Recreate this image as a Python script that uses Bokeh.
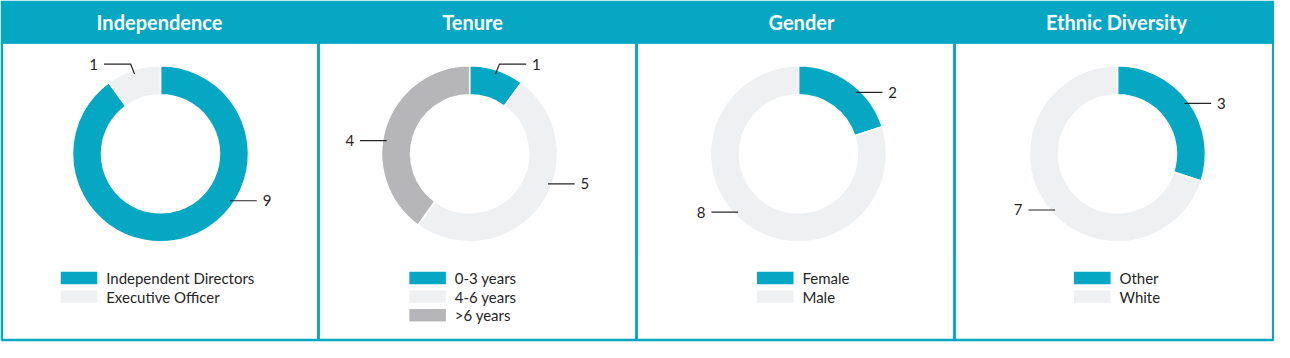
import math
from bokeh.plotting import figure
from bokeh.models import Range1d, ColumnDataSource
from bokeh.embed import file_html
from bokeh.resources import INLINE
from bokeh.core.properties import value

# ---------------- data ----------------
panel_titles = ["Independence", "Tenure", "Gender", "Ethnic Diversity"]

independence_labels = ["Independent Directors", "Executive Officer"]
independence_values = [9, 1]

tenure_labels = ["0-3 years", "4-6 years", ">6 years"]
tenure_values = [1, 5, 4]

gender_labels = ["Female", "Male"]
gender_values = [2, 8]

ethnic_labels = ["Other", "White"]
ethnic_values = [3, 7]

# ---------------- style / layout ----------------
TEAL = "#05a7c2"
LIGHT = "#eff0f2"
GRAY = "#b6b5b8"
TXT = "#262626"
FONT = "Lato"

panel_colors = [[TEAL, LIGHT], [TEAL, LIGHT, GRAY], [TEAL, LIGHT], [TEAL, LIGHT]]
panel_labels = [independence_labels, tenure_labels, gender_labels, ethnic_labels]
panel_values = [independence_values, tenure_values, gender_values, ethnic_values]

W, H = 1274, 342
REF_W, REF_H = 1290, 358
sx, sy = W / REF_W, H / REF_H

panel_edges = [0, 322, 644, 966, 1290]
donut_cx = [162, 475, 808, 1131]
donut_cy = 160.5
title_cx = [161, 478, 811, 1130]
legend_left = [61, 414, 766, 1087]
# label anchor angle (degrees clockwise from 12 o'clock) and elbow flag per slice
label_angle = [[124, 342], [18, 111, 279], [43, 226], [53, 228]]
label_elbow = [[False, True], [True, False, False], [False, False], [False, False]]


def Y(yref):
    return REF_H - yref


p = figure(width=W, height=H, x_range=Range1d(0, REF_W), y_range=Range1d(0, REF_H),
           output_backend="svg", toolbar_location=None, min_border=0)
p.axis.visible = False
p.grid.visible = False
p.outline_line_color = None
p.background_fill_color = "white"
p.border_fill_color = "white"

# header band
p.quad(left=[0], right=[REF_W], top=[Y(0)], bottom=[Y(45)], fill_color=TEAL, line_color=None)
# panel frames
p.quad(left=[1.3] + panel_edges[1:4], right=panel_edges[1:4] + [REF_W - 1.3],
       top=Y(44), bottom=Y(355.5), fill_color=None, line_color=TEAL, line_width=2.5)

# titles
p.text(x=title_cx, y=[Y(23)] * 4, text=panel_titles, text_align="center",
       text_baseline="middle", text_color="white", text_font=value(FONT),
       text_font_style="bold", text_font_size="20px")

for k in range(4):
    vals = panel_values[k]
    total = float(sum(vals))
    cx, cy = donut_cx[k], Y(donut_cy)
    starts, ends = [], []
    acc = 0.0
    for v in vals:
        s = acc / total * 360.0
        acc += v
        e = acc / total * 360.0
        starts.append(math.radians(90 - s))
        ends.append(math.radians(90 - e))
    src = ColumnDataSource(dict(x=[cx] * len(vals), y=[cy] * len(vals), s=starts, e=ends,
                                c=panel_colors[k]))
    p.annular_wedge(x="x", y="y", inner_radius=59, outer_radius=88,
                    inner_radius_units="screen", outer_radius_units="screen",
                    start_angle="s", end_angle="e", direction="clock",
                    fill_color="c", line_color="white", line_width=1.5, source=src)

    # data labels with leader lines
    xs, ys, tx, ty, tt, ta = [], [], [], [], [], []
    for i, v in enumerate(vals):
        th = math.radians(label_angle[k][i])
        r = 85
        ax = cx + r * math.sin(th)
        ay = cy + r * math.cos(th) * sx / sy
        side = 1 if math.sin(th) > 0 else -1
        if label_elbow[k][i]:
            p2x, p2y = ax + side * 4, Y(donut_cy - 94)
            p3x = p2x + side * 27
            xs.append([ax, p2x, p3x]); ys.append([ay, p2y, p2y])
            tx.append(p3x + side * 6); ty.append(p2y)
        else:
            ex = ax + side * 27
            xs.append([ax, ex]); ys.append([ay, ay])
            tx.append(ex + side * 6); ty.append(ay)
        tt.append(str(v))
        ta.append("left" if side > 0 else "right")
    p.multi_line(xs=xs, ys=ys, line_color=TXT, line_width=1.2)
    p.text(x=tx, y=ty, text=tt, text_align=ta, text_baseline="middle",
           text_color=TXT, text_font=value(FONT), text_font_size="15px")

    # legend
    labs = panel_labels[k]
    n = len(labs)
    lx = legend_left[k]
    yc = [290.5 + 19.5 * i for i in range(n)]
    p.quad(left=[lx] * n, right=[lx + 37] * n, top=[Y(c - 6.5) for c in yc],
           bottom=[Y(c + 6.5) for c in yc], fill_color=panel_colors[k], line_color=None)
    p.text(x=[lx + 46] * n, y=[Y(c) for c in yc], text=labs, text_align="left",
           text_baseline="middle", text_color=TXT, text_font=value(FONT),
           text_font_size="15px")

open("out.html", "w").write(file_html(p, INLINE))
